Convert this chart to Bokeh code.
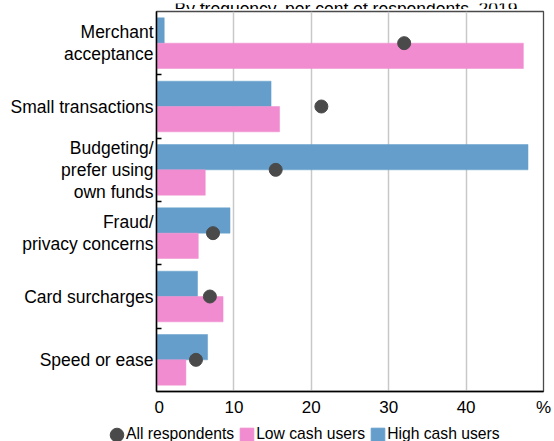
from bokeh.plotting import figure
from bokeh.layouts import row, column
from bokeh.models import ColumnDataSource, FixedTicker, Legend, LegendItem, Range1d
from bokeh.core.properties import value
from bokeh.embed import file_html
from bokeh.resources import INLINE

title_text = "By frequency, per cent of respondents, 2019"
categories = ["Merchant\nacceptance", "Small transactions", "Budgeting/\nprefer using\nown funds",
              "Fraud/\nprivacy concerns", "Card surcharges", "Speed or ease"]
high_cash = [1.0, 14.8, 48.0, 9.5, 5.3, 6.6]
low_cash = [47.4, 15.9, 6.3, 5.4, 8.6, 3.8]
all_resp = [32.0, 21.3, 15.4, 7.3, 6.9, 5.1]
x_ticks = [0, 10, 20, 30, 40, 50]
legend_labels = ["All respondents", "Low cash users", "High cash users"]

FONT = "Liberation Sans"
BLUE = "#659ecb"
PINK = "#f08ccf"
DOT = "#4a4a4a"
LINE_H = 22

n = len(categories)
centers = [n - 0.5 - i for i in range(n)]
src = ColumnDataSource(dict(
    y=centers,
    y_high=[c + 0.2 for c in centers],
    y_low=[c - 0.2 for c in centers],
    high=high_cash, low=low_cash, allr=all_resp,
))


def bare(fig):
    fig.outline_line_color = None
    fig.xgrid.visible = False
    fig.ygrid.visible = False
    return fig


# ---- title strip (cut off at the top, as in the reference) ----
ft = bare(figure(width=554, height=9, output_backend="svg", toolbar_location=None,
                 x_range=Range1d(0, 554), y_range=Range1d(0, 9), min_border=0,
                 x_axis_location=None, y_axis_location=None))
ft.text(x=[345.5], y=[4], text=[title_text], text_align="center", text_baseline="alphabetic",
        text_font=value(FONT), text_font_size="17.5px", text_color="black")

# ---- main plot ----
p = figure(width=400, height=412, output_backend="svg", toolbar_location=None,
           x_range=Range1d(0, 50), y_range=Range1d(0, n),
           min_border_left=2, min_border_right=11, min_border_top=2, min_border_bottom=30)
p.background_fill_color = "white"
p.border_fill_color = "white"
p.outline_line_color = "#4a4a4a"
p.outline_line_width = 1.3

p.xgrid.ticker = FixedTicker(ticks=[10, 20, 30, 40])
p.xgrid.grid_line_color = "#c8c8c8"
p.xgrid.grid_line_width = 1.5
p.ygrid.grid_line_color = None

hb = p.hbar(y="y_high", right="high", left=0, height=0.4, source=src,
            fill_color=BLUE, line_color=BLUE, line_width=0.5)
lb = p.hbar(y="y_low", right="low", left=0, height=0.4, source=src,
            fill_color=PINK, line_color=PINK, line_width=0.5)
p.scatter(x="allr", y="y", source=src, size=13, marker="circle",
          fill_color=DOT, line_color=DOT)

xa = p.xaxis[0]
xa.ticker = FixedTicker(ticks=x_ticks)
xa.major_label_overrides = {50: "%"}
xa.major_tick_in = 0
xa.major_tick_out = 0
xa.minor_tick_in = 0
xa.minor_tick_out = 0
xa.axis_line_color = "black"
xa.axis_line_width = 1.5
xa.major_label_text_font = FONT
xa.major_label_text_font_size = "17px"
xa.major_label_text_color = "black"
xa.major_label_standoff = 6

# y axis: short inward ticks between categories; category names are in the left figure
ya = p.yaxis[0]
bounds = list(range(1, n))
ya.ticker = FixedTicker(ticks=bounds)
ya.major_label_overrides = {b: "" for b in bounds}
ya.major_label_standoff = 0
ya.major_tick_in = 5
ya.major_tick_out = 0
ya.minor_tick_in = 0
ya.minor_tick_out = 0
ya.major_tick_line_color = "black"
ya.major_tick_line_width = 1.3
ya.axis_line_color = "black"
ya.axis_line_width = 1.5

# ---- category labels (left) ----
lab_y, lab_off, lab_t = [], [], []
for c, lab in zip(centers, categories):
    lines = lab.split("\n")
    m = len(lines)
    for k, line in enumerate(lines):
        lab_t.append(line)
        lab_y.append(c)
        lab_off.append((k - (m - 1) / 2) * LINE_H)
fl = bare(figure(width=154, height=412, output_backend="svg", toolbar_location=None,
                 x_range=Range1d(0, 154), y_range=p.y_range,
                 min_border_left=0, min_border_right=0, min_border_top=2, min_border_bottom=30,
                 x_axis_location=None, y_axis_location=None))
fl.text(x=[153] * len(lab_t), y=lab_y, text=lab_t, y_offset=lab_off, text_align="right",
        text_baseline="middle", text_font=value(FONT), text_font_size="17.5px",
        text_color="black")

# ---- legend (bottom) ----
fg = bare(figure(width=554, height=20, output_backend="svg", toolbar_location=None,
                 x_range=Range1d(0, 1), y_range=Range1d(0, 1), min_border=0,
                 x_axis_location=None, y_axis_location=None))
r_dot = fg.ellipse(x=[-10], y=[-10], width=10, height=10, width_units="screen",
                   height_units="screen", fill_color=DOT, line_color=DOT)
r_low = fg.quad(left=[-10], right=[-9], bottom=[-10], top=[-9], fill_color=PINK, line_color=PINK)
r_high = fg.quad(left=[-10], right=[-9], bottom=[-10], top=[-9], fill_color=BLUE, line_color=BLUE)
legend = Legend(items=[LegendItem(label=legend_labels[0], renderers=[r_dot]),
                       LegendItem(label=legend_labels[1], renderers=[r_low]),
                       LegendItem(label=legend_labels[2], renderers=[r_high])],
                orientation="horizontal", location=(108, -2))
legend.label_text_font = FONT
legend.label_text_font_size = "15.7px"
legend.label_text_color = "black"
legend.glyph_width = 17
legend.glyph_height = 17
legend.label_standoff = 1
legend.spacing = 4
legend.padding = 0
legend.margin = 0
legend.border_line_color = None
legend.background_fill_alpha = 0
fg.add_layout(legend)

layout = column(ft, row(fl, p), fg)
open("out.html", "w").write(file_html(layout, INLINE))
